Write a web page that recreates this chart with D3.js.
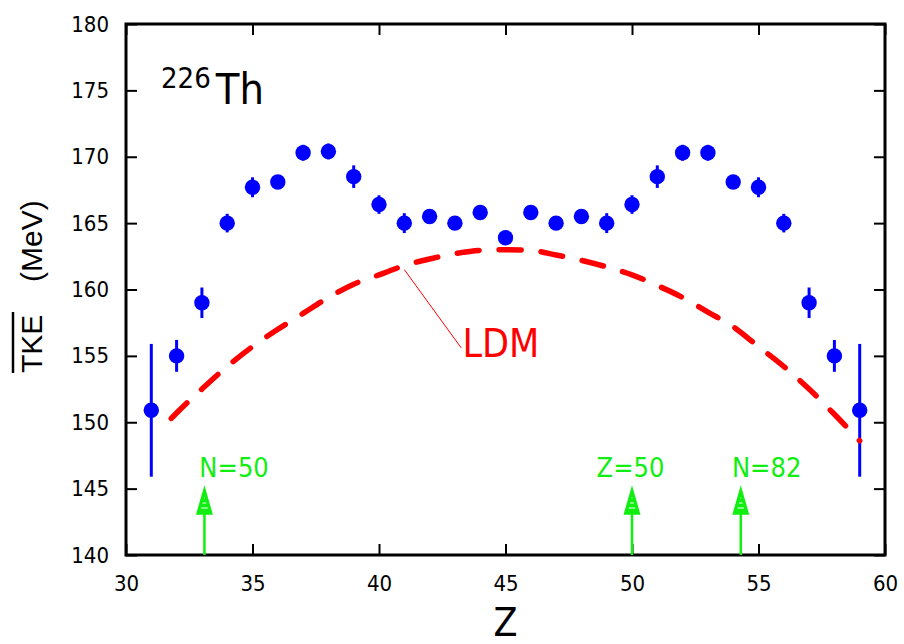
<!DOCTYPE html>
<html>
<head>
<meta charset="utf-8">
<script src="https://cdn.jsdelivr.net/npm/d3@7/dist/d3.min.js"></script>
<style>
body { margin: 0; background: #fff; }
text { font-family: "Liberation Sans Narrow", "DejaVu Sans Condensed", sans-serif; }
</style>
</head>
<body>
<svg id="chart" width="904" height="644"></svg>
<script>
// measured fragment charge Z and mean TKE (MeV)
var zValues = [31,32,33,34,35,36,37,38,39,40,41,42,43,44,45,46,47,48,49,50,51,52,53,54,55,56,57,58,59];
var tkeValues = [150.9,155.0,159.0,165.0,167.7,168.1,170.3,170.4,168.5,166.4,165.0,165.5,165.0,165.8,163.9,165.8,165.0,165.5,165.0,166.4,168.5,170.3,170.3,168.1,167.7,165.0,159.0,155.0,150.9];
var tkeErrors = [5.0,1.2,1.15,0.7,0.75,0.5,0.6,0.6,0.85,0.7,0.75,0.5,0.5,0.5,0.5,0.5,0.5,0.5,0.75,0.7,0.85,0.6,0.6,0.5,0.75,0.7,1.15,1.2,5.0];

// liquid drop model curve
var ldmZ = [31.4,32,33,34,35,36,37,38,39,40,41,42,43,44,45,46,47,48,49,50,51,52,53,54,55,56,57,58,59];
var ldmTke = [149.5,150.7,152.5,154.2,155.7,157.0,158.2,159.4,160.4,161.1,161.8,162.3,162.7,162.95,163.0,162.95,162.6,162.2,161.7,161.1,160.3,159.4,158.3,157.2,155.7,154.2,152.5,150.6,148.6];

// shell closures marked by arrows
var shellZ = [33.1, 50, 54.3];
var shellLabels = ["N=50", "Z=50", "N=82"];
var shellLabelZ = [32.9, 48.6, 53.95];

var xTicks = [30,35,40,45,50,55,60];
var yTicks = [140,145,150,155,160,165,170,175,180];

var svg = d3.select('#chart');
var plotLeft = 126, plotRight = 885, plotTop = 24, plotBottom = 555;

var x = d3.scaleLinear().domain([30,60]).range([plotLeft,plotRight]);
var y = d3.scaleLinear().domain([140,180]).range([plotBottom,plotTop]);

//ticks on all four sides, pointing inwards
svg.append('g')
    .attr('transform','translate(0,'+plotBottom+')')
    .call(d3.axisBottom(x).tickValues(xTicks).tickSize(-11).tickPadding(20).tickFormat(d3.format('d')));
svg.append('g')
    .attr('transform','translate(0,'+plotTop+')')
    .call(d3.axisTop(x).tickValues(xTicks).tickSize(-11).tickFormat(''));
svg.append('g')
    .attr('transform','translate('+plotLeft+',0)')
    .call(d3.axisLeft(y).tickValues(yTicks).tickSize(-11).tickPadding(17).tickFormat(d3.format('d')));
svg.append('g')
    .attr('transform','translate('+plotRight+',0)')
    .call(d3.axisRight(y).tickValues(yTicks).tickSize(-11).tickFormat(''));

svg.selectAll('.domain').remove();
svg.selectAll('.tick line').attr('stroke','#000').attr('stroke-width',2);
svg.selectAll('.tick text')
    .attr('fill','#000')
    .style('font-size','22px');

svg.append('rect')
    .attr('x',plotLeft).attr('y',plotTop)
    .attr('width',plotRight-plotLeft).attr('height',plotBottom-plotTop)
    .attr('fill','none').attr('stroke','#000').attr('stroke-width',3);

// error bars + points
var pts = svg.append('g');
zValues.forEach(function(z,i) {
    pts.append('line')
        .attr('x1',x(z)).attr('x2',x(z))
        .attr('y1',y(tkeValues[i]-tkeErrors[i]))
        .attr('y2',y(tkeValues[i]+tkeErrors[i]))
        .attr('stroke','#0000ff').attr('stroke-width',3);
    pts.append('circle')
        .attr('cx',x(z)).attr('cy',y(tkeValues[i]))
        .attr('r',7.7)
        .attr('fill','#0000ff');
});

// LDM curve, drawn right to left so it ends on a dot at Z=59
var ldmPoints = ldmZ.map(function(d,i) { return [d, ldmTke[i]]; }).reverse();
var line = d3.line()
    .x(function(d) { return x(d[0]); })
    .y(function(d) { return y(d[1]); })
    .curve(d3.curveMonotoneX);
svg.append('path')
    .attr('d', line(ldmPoints))
    .attr('fill','none')
    .attr('stroke','#ff0000')
    .attr('stroke-width',5.5)
    .attr('stroke-linecap','round')
    .attr('stroke-dasharray','22,20')
    .attr('stroke-dashoffset',21.5);

// leader line and label
svg.append('line')
    .attr('x1',x(41)).attr('y1',y(161.5))
    .attr('x2',x(43.25)).attr('y2',y(155.6))
    .attr('stroke','#ff0000').attr('stroke-width',1);
svg.append('text')
    .attr('x',x(43.3)).attr('y',y(154.9))
    .attr('fill','#ff0000')
    .style('font-size','39px')
    .text('LDM');

// shell arrows
var green = '#11ee11';
shellZ.forEach(function(z,i) {
    var ax = x(z);
    svg.append('line')
        .attr('x1',ax).attr('x2',ax)
        .attr('y1',plotBottom).attr('y2',513)
        .attr('stroke',green).attr('stroke-width',2.5);
    svg.append('path')
        .attr('d','M'+ax+',488L'+(ax+7.5)+',514L'+(ax-7.5)+',514Z')
        .attr('fill',green).attr('stroke',green).attr('stroke-width',1.5);
    [498,503,508].forEach(function(ly) {
        var hw = 7.5*(ly-488)/26 - 2.5;
        svg.append('line')
            .attr('x1',ax-hw).attr('x2',ax+hw)
            .attr('y1',ly).attr('y2',ly)
            .attr('stroke','#fff').attr('stroke-width',1);
    });
    svg.append('text')
        .attr('x',x(shellLabelZ[i])).attr('y',477)
        .attr('fill',green)
        .style('font-size','27px')
        .text(shellLabels[i]);
});

// nucleus label
var nuc = svg.append('text').attr('x',161).attr('y',104).attr('fill','#000');
nuc.append('tspan').attr('dy',-16).style('font-size','29px').text('226');
nuc.append('tspan').attr('dy',16).attr('dx',5).style('font-size','43px').text('Th');

// axis titles
svg.append('text')
    .attr('x',x(45)).attr('y',636)
    .attr('text-anchor','middle')
    .attr('fill','#000')
    .style('font-size','39px')
    .text('Z');

var yt = svg.append('g').attr('transform','translate(42,373) rotate(-90)');
yt.append('text')
    .attr('x',0).attr('y',0)
    .attr('fill','#000')
    .style('font-family','"Liberation Sans", Arial, sans-serif')
    .style('font-size','30px')
    .text('TKE');
yt.append('line')
    .attr('x1',0).attr('x2',61)
    .attr('y1',-29).attr('y2',-29)
    .attr('stroke','#000').attr('stroke-width',2.5);
yt.append('text')
    .attr('x',91).attr('y',0)
    .attr('fill','#000')
    .style('font-family','"Liberation Sans", Arial, sans-serif')
    .style('font-size','30px')
    .text('(MeV)');
</script>
</body>
</html>
